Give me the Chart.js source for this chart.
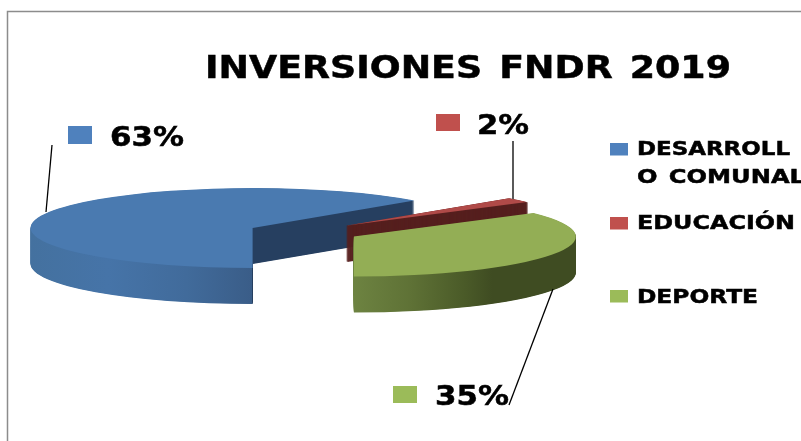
<!DOCTYPE html>
<html>
<head>
<meta charset="utf-8">
<title>INVERSIONES FNDR 2019</title>
<script src="https://cdn.jsdelivr.net/npm/chart.js@4/dist/chart.umd.js"></script>
<style>
  html, body { margin: 0; padding: 0; background: #fff; overflow: hidden; }
  canvas { display: block; }
</style>
</head>
<body>
<canvas id="pie" width="801" height="441"></canvas>
<script>
const chartTitle = 'INVERSIONES FNDR 2019';
const categories = ['DESARROLLO COMUNAL', 'EDUCACIÓN', 'DEPORTE'];
const values = [63, 2, 35];
const legendLines = [['DESARROLL', 'O COMUNAL'], ['EDUCACIÓN'], ['DEPORTE']];
const swatchColors = ['#4f81bd', '#c0504d', '#9bbb59'];
const topColors = ['#4a7ab0', '#b04a48', '#93ae55'];

// where the flattened pie sits on the page
const pieX = 304, pieY = 232, radiusX = 222, radiusY = 40, depth = 36;
// the offset option of arcs also grows the radius, so slices get pulled out here instead
const explode = 56;

// label box, leader line, swatch per slice
const pctBoxes = [
  { sw: [68, 126, 24, 18], x: 110, y: 146, w: 74, line: [52, 145, 46, 212] },
  { sw: [436, 114, 24, 17], x: 477, y: 134, w: 52, line: [513, 141, 513, 199] },
  { sw: [393, 386, 24, 17], x: 435, y: 405, w: 74, line: [553, 289, 509, 405] }
];
const legendBoxes = [
  { sw: 143, ys: [155, 183], ws: [153, 168] },
  { sw: 217, ys: [229], ws: [158] },
  { sw: 290, ys: [303], ws: [121] }
];

function fitText(ctx, text, x, y, size, width) {
  ctx.save();
  ctx.font = 'bold ' + size + 'px "DejaVu Sans"';
  ctx.wordSpacing = (size * 0.12) + 'px';
  ctx.fillStyle = '#000';
  ctx.strokeStyle = '#000';
  ctx.lineWidth = 0.5;
  ctx.textBaseline = 'alphabetic';
  const scale = width / ctx.measureText(text).width;
  ctx.translate(x, y);
  ctx.scale(scale, 1);
  ctx.fillText(text, 0, 0);
  ctx.strokeText(text, 0, 0);
  ctx.restore();
}

const tiltedPie = {
  id: 'tiltedPie',
  beforeDatasetsDraw(chart) {
    const ctx = chart.ctx;
    const arcs = chart.getDatasetMeta(0).data;
    const cx = arcs[0].x, cy = arcs[0].y;
    const sx = radiusX / arcs[0].outerRadius;
    const sy = radiusY / arcs[0].outerRadius;

    // gradients are created in the chart's coordinates, x here is page x minus slice origin
    const wallGradient = (i, fromX, toX) => {
      const mid = (arcs[i].startAngle + arcs[i].endAngle) / 2;
      const originX = pieX + Math.cos(mid) * explode;
      return ctx.createLinearGradient(cx + (fromX - originX) / sx, 0, cx + (toX - originX) / sx, 0);
    };

    const blueWall = wallGradient(0, 30, 253);
    blueWall.addColorStop(0, '#44719f');
    blueWall.addColorStop(0.35, '#4674a8');
    blueWall.addColorStop(0.7, '#416b9b');
    blueWall.addColorStop(0.995, '#3a5d88');
    blueWall.addColorStop(0.996, '#263f60');
    blueWall.addColorStop(1, '#263f60');

    const greenWall = wallGradient(2, 354, 577);
    greenWall.addColorStop(0, '#6d8341');
    greenWall.addColorStop(0.25, '#5f7236');
    greenWall.addColorStop(0.5, '#4a5a28');
    greenWall.addColorStop(0.62, '#3f4c22');
    greenWall.addColorStop(1, '#3f4c22');

    const wallColors = [blueWall, '#56201f', greenWall];

    arcs.forEach((arc, i) => {
      const opts = arc.options;
      const mid = (arc.startAngle + arc.endAngle) / 2;
      const originX = pieX + Math.cos(mid) * explode;
      const originY = pieY + Math.sin(mid) * explode * radiusY / radiusX;
      for (let d = depth; d >= 0; d -= 0.5) {
        arc.options = Object.assign({}, opts, {
          backgroundColor: d === 0 ? topColors[i] : wallColors[i]
        });
        // the red wedge is too thin near its tip to fill solid, so its wall gets an outline too
        if (i === 1 && d > 0) {
          arc.options.borderColor = wallColors[i];
          arc.options.borderWidth = 3;
        }
        ctx.save();
        ctx.translate(originX, originY + d);
        ctx.scale(sx, sy);
        ctx.translate(-cx, -cy);
        arc.draw(ctx);
        ctx.restore();
      }
      arc.options = opts;
    });
    return false;
  },
  afterDraw(chart) {
    const ctx = chart.ctx;

    // frame of the original picture
    ctx.strokeStyle = '#8c8c8c';
    ctx.lineWidth = 1.5;
    ctx.beginPath();
    ctx.moveTo(7.5, 441);
    ctx.lineTo(7.5, 11.5);
    ctx.lineTo(801, 11.5);
    ctx.stroke();

    fitText(ctx, chartTitle, 205, 78, 32, 526);

    values.forEach((v, i) => {
      const b = pctBoxes[i];
      ctx.strokeStyle = '#000';
      ctx.lineWidth = 1.3;
      ctx.beginPath();
      ctx.moveTo(b.line[0], b.line[1]);
      ctx.lineTo(b.line[2], b.line[3]);
      ctx.stroke();
      ctx.fillStyle = swatchColors[i];
      ctx.fillRect(b.sw[0], b.sw[1], b.sw[2], b.sw[3]);
      fitText(ctx, v + '%', b.x, b.y, 27, b.w);

      const l = legendBoxes[i];
      ctx.fillStyle = swatchColors[i];
      ctx.fillRect(610, l.sw, 18, 12.5);
      legendLines[i].forEach((line, k) => {
        fitText(ctx, line, 637, l.ys[k], 19, l.ws[k]);
      });
    });
  }
};

new Chart(document.getElementById('pie'), {
  type: 'pie',
  data: {
    labels: categories,
    datasets: [{
      data: values,
      backgroundColor: topColors,
      borderWidth: 0
    }]
  },
  options: {
    responsive: false,
    animation: false,
    rotation: 180,
    layout: { padding: 0 },
    plugins: { legend: { display: false }, title: { display: false }, tooltip: { enabled: false } }
  },
  plugins: [tiltedPie]
});
</script>
</body>
</html>
